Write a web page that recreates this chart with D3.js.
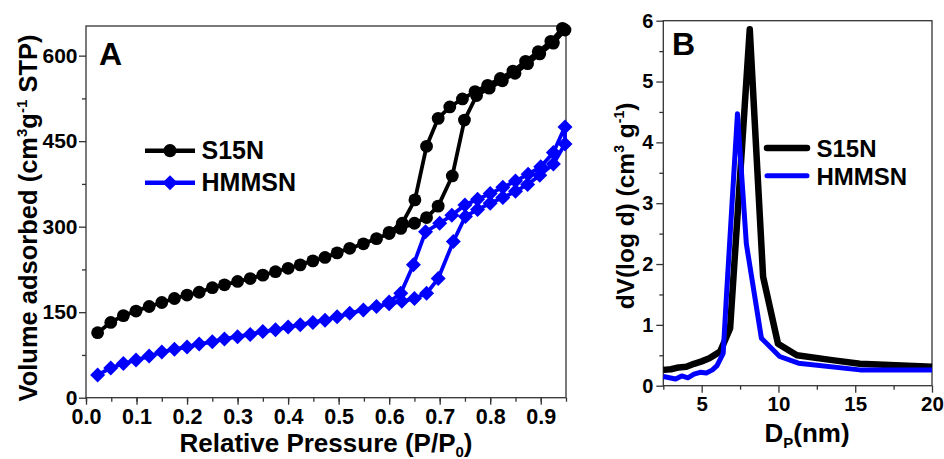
<!DOCTYPE html>
<html>
<head>
<meta charset="utf-8">
<script src="https://cdn.jsdelivr.net/npm/d3@7"></script>
<style>
body{margin:0;background:#fff;}
svg text{font-family:"Liberation Sans",Arial,sans-serif;font-weight:bold;fill:#000;}
.domain{display:none;}
</style>
</head>
<body>
<svg id="fig" width="944" height="459"></svg>
<script>
var seriesNames = ['S15N', 'HMMSN'];
var seriesColors = ['#000000', '#0000ff'];

// panel A: N2 isotherms, adsorption then desorption branch
var s15nPressure = [0.023,0.049,0.074,0.099,0.125,0.15,0.175,0.2,0.224,0.25,0.274,0.3,0.325,0.35,0.375,0.4,0.424,0.449,0.473,0.497,0.522,0.549,0.575,0.6,0.623,0.65,0.674,0.697,0.725,0.749,0.773,0.798,0.824,0.849,0.874,0.898,0.925,0.948,
	0.943,0.92,0.895,0.87,0.845,0.82,0.795,0.77,0.745,0.72,0.697,0.674,0.651,0.626,0.6];
var s15nVolume = [114,132,144,152,160,167,174,180,185,193,198,204,209,215,221,227,233,240,246,254,262,270,279,288,297,306,316,336,389,487,530,543,556,569,586,603,622,645,
	648,625,607,590,573,560,548,537,524,510,490,441,347,306,290];
var hmmsnPressure = [0.023,0.049,0.074,0.099,0.125,0.15,0.175,0.2,0.224,0.25,0.274,0.3,0.325,0.35,0.375,0.4,0.424,0.449,0.473,0.497,0.522,0.549,0.575,0.6,0.625,0.65,0.674,0.697,0.727,0.751,0.775,0.8,0.825,0.85,0.874,0.898,0.925,0.948,
	0.948,0.925,0.9,0.875,0.85,0.825,0.8,0.775,0.75,0.724,0.7,0.672,0.648,0.623,0.6];
var hmmsnVolume = [40,52,60,66,73,80,85,89,94,98,103,107,111,116,119,124,128,132,136,142,148,154,160,165,169,174,183,209,274,318,330,341,351,362,374,390,410,445,
	475,430,405,392,380,369,358,348,338,320,306,291,233,183,168];
var pressureTicks = [0,0.1,0.2,0.3,0.4,0.5,0.6,0.7,0.8,0.9];
var volumeTicks = [0,150,300,450,600];

// panel B: pore size distribution
var s15nDiameter = [2.5,3.0,3.5,4.0,4.5,5.0,5.5,6.2,6.85,8.13,9.0,9.97,11.2,13.5,15.3,20];
var s15nDist = [0.26,0.27,0.30,0.31,0.36,0.40,0.45,0.56,0.94,5.86,1.79,0.69,0.50,0.42,0.36,0.31];
var hmmsnDiameter = [2.5,2.9,3.3,3.7,4.1,4.5,4.9,5.3,5.7,6.0,6.4,6.62,7.33,7.91,8.89,10.08,11.3,15.3,20];
var hmmsnDist = [0.15,0.13,0.11,0.16,0.13,0.19,0.22,0.21,0.26,0.33,0.53,1.51,4.47,2.33,0.78,0.48,0.37,0.26,0.26];
var diameterTicks = [5,10,15,20];
var distTicks = [0,1,2,3,4,5,6];

var chart = {
	initialize: function(){
		var self = this;
		self.svg = d3.select('#fig');
		self._render_isotherm();
		self._render_pore();
	},
	_zip: function(xs, ys){
		return xs.map(function(d, i){ return [d, ys[i]]; });
	},
	_frame: function(g, x, y){
		g.append('rect')
			.attr('x', x.range()[0])
			.attr('y', y.range()[1])
			.attr('width', x.range()[1] - x.range()[0])
			.attr('height', y.range()[0] - y.range()[1])
			.attr('fill', 'none')
			.attr('stroke', '#333')
			.attr('stroke-width', 1.3);
	},
	_axes: function(g, x, y, xTicks, yTicks, xMinor, yMinor, xFmt, yFmt, fs, yPad){
		var bottom = y.range()[0], left = x.range()[0];
		g.append('g').attr('transform', 'translate(0,' + bottom + ')')
			.call(d3.axisBottom(x).tickValues(xMinor).tickSize(4).tickFormat(''));
		g.append('g').attr('transform', 'translate(' + left + ',0)')
			.call(d3.axisLeft(y).tickValues(yMinor).tickSize(4).tickFormat(''));
		var xa = g.append('g').attr('transform', 'translate(0,' + bottom + ')')
			.call(d3.axisBottom(x).tickValues(xTicks).tickSize(7).tickPadding(4).tickFormat(xFmt));
		var ya = g.append('g').attr('transform', 'translate(' + left + ',0)')
			.call(d3.axisLeft(y).tickValues(yTicks).tickSize(7).tickPadding(yPad).tickFormat(yFmt));
		g.selectAll('.tick line').attr('stroke', '#333').attr('stroke-width', 1.3);
		xa.selectAll('text').attr('font-size', fs).attr('font-family', null);
		ya.selectAll('text').attr('font-size', fs - 0.5).attr('font-family', null);
	},
	_render_isotherm: function(){
		var self = this;
		var g = self.svg.append('g').attr('id', 'panel-a');
		var x = d3.scaleLinear().domain([0, 0.95]).range([86, 566]);
		var y = d3.scaleLinear().domain([0, 652]).range([397.7, 26]);
		self._axes(g, x, y, pressureTicks, volumeTicks,
			d3.range(0, 0.96, 0.05), [75, 225, 375, 525],
			d3.format('.1f'), d3.format('d'), 21.5, 1.5);
		self._frame(g, x, y);

		var line = d3.line().x(function(d){ return x(d[0]); }).y(function(d){ return y(d[1]); });
		var diamond = 'M0,-7.5L7.5,0L0,7.5L-7.5,0Z';
		var sets = [self._zip(s15nPressure, s15nVolume), self._zip(hmmsnPressure, hmmsnVolume)];
		sets.forEach(function(pts, k){
			g.append('path').datum(pts)
				.attr('d', line)
				.attr('fill', 'none')
				.attr('stroke', seriesColors[k])
				.attr('stroke-width', 3.8);
			var m = g.selectAll('.mark-' + k).data(pts).enter();
			if(k == 0){
				m.append('circle').attr('class', 'mark-0')
					.attr('cx', function(d){ return x(d[0]); })
					.attr('cy', function(d){ return y(d[1]); })
					.attr('r', 6.4)
					.attr('fill', seriesColors[0]);
			}else{
				m.append('path').attr('class', 'mark-1')
					.attr('d', diamond)
					.attr('transform', function(d){ return 'translate(' + x(d[0]) + ',' + y(d[1]) + ')'; })
					.attr('fill', seriesColors[1]);
			}
		});

		// legend
		var ly = [150.7, 182.7];
		seriesNames.forEach(function(name, k){
			g.append('line').attr('x1', 145).attr('x2', 195).attr('y1', ly[k]).attr('y2', ly[k])
				.attr('stroke', seriesColors[k]).attr('stroke-width', 4.5);
			if(k == 0){
				g.append('circle').attr('cx', 170).attr('cy', ly[k]).attr('r', 6.6).attr('fill', seriesColors[k]);
			}else{
				g.append('path').attr('d', diamond).attr('transform', 'translate(170,' + ly[k] + ')').attr('fill', seriesColors[k]);
			}
			g.append('text').attr('x', 201.5).attr('y', ly[k] + 8.5).attr('font-size', 25).text(name);
		});

		g.append('text').attr('x', 99).attr('y', 65).attr('font-size', 32).text('A');

		g.append('text').attr('x', 326).attr('y', 452).attr('font-size', 26).attr('text-anchor', 'middle')
			.call(function(t){
				t.append('tspan').text('Relative Pressure (P/P');
				t.append('tspan').attr('font-size', 15).attr('dy', 5).text('0');
				t.append('tspan').attr('dy', -5).text(')');
			});

		g.append('text').attr('transform', 'translate(37,218) rotate(-90)')
			.attr('font-size', 25.5).attr('text-anchor', 'middle')
			.call(function(t){
				t.append('tspan').text('Volume adsorbed (cm');
				t.append('tspan').attr('font-size', 15).attr('dy', -10).text('3');
				t.append('tspan').attr('dy', 10).text('g');
				t.append('tspan').attr('font-size', 15).attr('dy', -10).text('-1');
				t.append('tspan').attr('dy', 10).text(' STP)');
			});
	},
	_render_pore: function(){
		var self = this;
		var g = self.svg.append('g').attr('id', 'panel-b');
		var x = d3.scaleLinear().domain([2.5, 20]).range([663.3, 932]);
		var y = d3.scaleLinear().domain([0, 6]).range([385.7, 20.7]);
		self._axes(g, x, y, diameterTicks, distTicks,
			[2.5, 7.5, 12.5, 17.5], d3.range(0.5, 6, 1),
			d3.format('d'), d3.format('d'), 20.5, 3);
		self._frame(g, x, y);

		var line = d3.line().x(function(d){ return x(d[0]); }).y(function(d){ return y(d[1]); });
		var sets = [self._zip(s15nDiameter, s15nDist), self._zip(hmmsnDiameter, hmmsnDist)];
		var widths = [6.5, 5];
		sets.forEach(function(pts, k){
			g.append('path').datum(pts)
				.attr('d', line)
				.attr('fill', 'none')
				.attr('stroke', seriesColors[k])
				.attr('stroke-width', widths[k])
				.attr('stroke-linejoin', 'round');
		});

		var ly = [148, 175.7];
		seriesNames.forEach(function(name, k){
			g.append('line').attr('x1', 767).attr('x2', 807).attr('y1', ly[k]).attr('y2', ly[k])
				.attr('stroke', seriesColors[k]).attr('stroke-width', widths[k]).attr('stroke-linecap', 'round');
			g.append('text').attr('x', 816.5).attr('y', ly[k] + 8.8).attr('font-size', 24).text(name);
		});

		g.append('text').attr('x', 672).attr('y', 55).attr('font-size', 32).text('B');

		g.append('text').attr('x', 807).attr('y', 442).attr('font-size', 26).attr('text-anchor', 'middle')
			.call(function(t){
				t.append('tspan').text('D');
				t.append('tspan').attr('font-size', 15).attr('dy', 6).text('P');
				t.append('tspan').attr('dy', -6).text('(nm)');
			});

		g.append('text').attr('transform', 'translate(634,206) rotate(-90)')
			.attr('font-size', 24.5).attr('text-anchor', 'middle')
			.call(function(t){
				t.append('tspan').text('dV(log d) (cm');
				t.append('tspan').attr('font-size', 14).attr('dy', -10).text('3');
				t.append('tspan').attr('dy', 10).text(' g');
				t.append('tspan').attr('font-size', 14).attr('dy', -10).text('-1');
				t.append('tspan').attr('dy', 10).text(')');
			});
	}
};

chart.initialize();
</script>
</body>
</html>
